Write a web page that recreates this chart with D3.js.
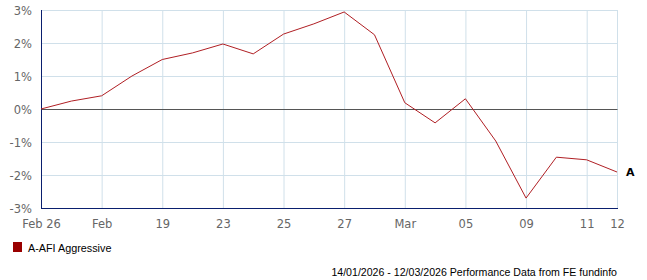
<!DOCTYPE html>
<html><head><meta charset="utf-8">
<script src="https://cdn.jsdelivr.net/npm/d3@7"></script>
<style>body{margin:0;background:#fff}svg{display:block}</style>
</head><body>
<script>
const xLabels = ["Feb 26","","Feb","","19","","23","","25","","27","","Mar","","05","","09","","11","12"];
const values = [0, 0.24, 0.40, 1.0, 1.50, 1.70, 1.97, 1.67, 2.27, 2.58, 2.94, 2.25, 0.19, -0.42, 0.31, -0.97, -2.70, -1.46, -1.54, -1.91];
const yTicks = [-3, -2, -1, 0, 1, 2, 3];
const seriesName = "A-AFI Aggressive";
const seriesLabel = "A";
const footer = "14/01/2026 - 12/03/2026 Performance Data from FE fundinfo";

const W = 647, H = 280;
const svg = d3.select("body").append("svg").attr("width", W).attr("height", H);
const x = d3.scaleLinear().domain([0, values.length - 1]).range([41, 617]);
const y = d3.scaleLinear().domain([-3, 3]).range([208, 10]);

// grid
const tickIdx = xLabels.map((l, i) => l ? i : null).filter(v => v !== null);
svg.append("g").selectAll("line").data(tickIdx).join("line")
  .attr("x1", d => x(d) + 0.5).attr("x2", d => x(d) + 0.5)
  .attr("y1", y(3)).attr("y2", y(-3))
  .attr("stroke", "#d0e0ea").attr("stroke-width", 1);
svg.append("g").selectAll("line").data(yTicks.filter(d => d !== 0 && d !== -3)).join("line")
  .attr("x1", x(0)).attr("x2", x(values.length - 1) + 0.5)
  .attr("y1", d => y(d) + 0.5).attr("y2", d => y(d) + 0.5)
  .attr("stroke", "#d0e0ea").attr("stroke-width", 1);
// zero line
svg.append("line").attr("x1", x(0)).attr("x2", x(values.length - 1) + 0.5)
  .attr("y1", y(0) + 0.5).attr("y2", y(0) + 0.5).attr("stroke", "#555").attr("stroke-width", 1);
// axes
svg.append("line").attr("x1", x(0) + 0.5).attr("x2", x(0) + 0.5).attr("y1", y(3)).attr("y2", y(-3) + 1)
  .attr("stroke", "#0a1f6e").attr("stroke-width", 1);
svg.append("line").attr("x1", x(0)).attr("x2", x(values.length - 1) + 1).attr("y1", y(-3) + 0.5).attr("y2", y(-3) + 0.5)
  .attr("stroke", "#0a1f6e").attr("stroke-width", 1);

// y labels
svg.append("g").selectAll("text").data(yTicks).join("text")
  .attr("x", 32).attr("y", d => y(d) + 4.5).attr("text-anchor", "end")
  .attr("font-family", "DejaVu Sans").attr("font-size", 11.5).attr("fill", "#666")
  .text(d => d + "%");
// x labels
svg.append("g").selectAll("text").data(tickIdx).join("text")
  .attr("x", d => x(d) + 0.5).attr("y", 228).attr("text-anchor", "middle")
  .attr("font-family", "DejaVu Sans").attr("font-size", 11.5).attr("fill", "#666")
  .text(d => xLabels[d]);

// line
svg.append("path").datum(values)
  .attr("d", d3.line().x((d, i) => x(i)).y(d => y(d)))
  .attr("fill", "none").attr("stroke", "#b01f24").attr("stroke-width", 1);

// end label
svg.append("text").attr("x", 626).attr("y", y(values[values.length - 1]) + 4)
  .attr("font-family", "DejaVu Sans").attr("font-weight", "bold").attr("font-size", 11).attr("fill", "#000")
  .text(seriesLabel);

// legend
svg.append("rect").attr("x", 13).attr("y", 242).attr("width", 9).attr("height", 10).attr("fill", "#990000");
svg.append("text").attr("x", 28).attr("y", 251.5)
  .attr("font-family", "Liberation Sans").attr("font-size", 10.8).attr("fill", "#000").text(seriesName);

// footer
svg.append("text").attr("x", 617).attr("y", 276).attr("text-anchor", "end")
  .attr("font-family", "Liberation Sans").attr("font-size", 10.6).attr("fill", "#000").text(footer);
</script>
</body></html>
